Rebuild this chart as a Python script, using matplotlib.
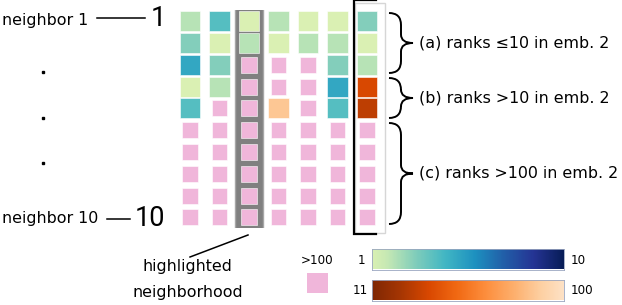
import matplotlib
matplotlib.use("Agg")
import matplotlib.pyplot as plt
import numpy as np
from matplotlib.colors import ListedColormap, Normalize
from matplotlib.patches import Rectangle, PathPatch
from matplotlib.path import Path

# ranks of each neighbor (rows) in the 7 embeddings (columns); 999 means >100
ranks_r0 = [2, 4, 1, 2, 1, 1, 3]
ranks_r1 = [3, 1, 2, 1, 2, 2, 1]
ranks_r2 = [5, 3, 999, 999, 999, 3, 2]
ranks_r3 = [1, 2, 999, 999, 999, 5, 37]
ranks_r4 = [4, 999, 999, 86, 999, 4, 30]
ranks_rest = [999] * 7
ranks = np.array([ranks_r0, ranks_r1, ranks_r2, ranks_r3, ranks_r4] + [ranks_rest] * 5)

highlight_col = 2
bracket_col = 6

group_labels = ["(a) ranks \u226410 in emb. 2", "(b) ranks >10 in emb. 2", "(c) ranks >100 in emb. 2"]

PINK = "#f0b6da"
cmap_in = ListedColormap(plt.cm.YlGnBu(np.linspace(0.19, 1.0, 256)))
cmap_out = ListedColormap(plt.cm.Oranges_r(np.linspace(0.0, 0.85, 256)))
norm_in = Normalize(1, 10)
norm_out = Normalize(11, 100)

FS = 11.4

fig = plt.figure(figsize=(6.22, 3.05), dpi=100)
W, H = 622, 305

# overlay in pixel coordinates for annotations
ov = fig.add_axes([0, 0, 1, 1])
ov.set_xlim(0, W)
ov.set_ylim(H, 0)
ov.axis("off")

# grid axes
nrows, ncols = ranks.shape
left, width = 175.25, 206.5
top, height = 10.3, 217.9
ax = fig.add_axes([left / W, (H - top - height) / H, width / W, height / H])
ax.set_xlim(-0.5, ncols - 0.5)
ax.set_ylim(nrows - 0.5, -0.5)
ax.axis("off")

# highlighted neighborhood (grey column)
ax.add_patch(Rectangle((highlight_col - 0.461, -0.651), 0.922, 10.37,
                       facecolor="#808080", edgecolor="#a6a6a6", lw=1, zorder=1))
# box + bracket for embedding 2
ax.add_patch(Rectangle((bracket_col - 0.407, -0.835), 1.017, 10.555,
                       facecolor="none", edgecolor="#d6d6d6", lw=1, zorder=1, clip_on=False))
ax.plot([bracket_col + 0.305, bracket_col - 0.441, bracket_col - 0.441, bracket_col + 0.305],
        [-0.95, -0.95, 9.766, 9.766], color="black", lw=1.6, zorder=3, clip_on=False,
        solid_joinstyle="miter")

for r in range(nrows):
    for c in range(ncols):
        v = ranks[r, c]
        if v <= 10:
            col = cmap_in(norm_in(v))
            w, h = 0.678, 0.918
        elif v <= 100:
            col = cmap_out(norm_out(v))
            w, h = 0.678, 0.918
        else:
            col = PINK
            w, h = 0.542, 0.734
        ax.add_patch(Rectangle((c - w / 2, r - h / 2), w, h, facecolor=col,
                               edgecolor="white", lw=0.4, zorder=2))

# left labels
ov.text(2, 20, "neighbor 1", fontsize=FS, va="center", ha="left")
ov.plot([97, 145], [18, 18], color="black", lw=1.1)
ov.text(151, 18.5, "1", fontsize=19.5, va="center", ha="left", family="Roboto")
ov.text(2, 218, "neighbor 10", fontsize=FS, va="center", ha="left")
ov.plot([107, 130], [219, 219], color="black", lw=1.1)
ov.text(135, 218.5, "10", fontsize=19.5, va="center", ha="left", family="Roboto")
ov.plot([43, 43, 43], [72, 117.5, 163], "s", color="black", ms=2.0)


def brace(x, y0, y1, w=24):
    ym = (y0 + y1) / 2
    h = w / 2
    verts = [(x, y0), (x + h, y0), (x + h, y0 + h),
             (x + h, ym - h * 0.7),
             (x + h, ym), (x + w, ym),
             (x + h, ym), (x + h, ym + h * 0.7),
             (x + h, y1 - h),
             (x + h, y1), (x, y1)]
    codes = [Path.MOVETO, Path.CURVE3, Path.CURVE3,
             Path.LINETO,
             Path.CURVE3, Path.CURVE3,
             Path.CURVE3, Path.CURVE3,
             Path.LINETO,
             Path.CURVE3, Path.CURVE3]
    ov.add_patch(PathPatch(Path(verts, codes), facecolor="none", edgecolor="black", lw=1.4))


brace_spans = [(13, 73), (78, 118), (123, 224)]
for (y0, y1), lab in zip(brace_spans, group_labels):
    brace(389, y0, y1)
    ov.text(419, (y0 + y1) / 2, lab, fontsize=FS, va="center", ha="left")

# highlighted neighborhood caption
ov.plot([248, 190], [235, 257], color="black", lw=1.1)
ov.text(187, 266, "highlighted", fontsize=FS, va="center", ha="center")
ov.text(188, 292.5, "neighborhood", fontsize=FS, va="center", ha="center")

# legend: >100 swatch
ov.text(317, 261, ">100", fontsize=8.6, va="center", ha="center")
ov.add_patch(Rectangle((307, 273), 21, 20, facecolor=PINK, edgecolor="none"))

# colorbars
grad = np.linspace(0, 1, 256)[None, :]
for y0, cm, l1, l2, xl in [(249, cmap_in, "1", "10", 365), (280, cmap_out, "11", "100", 368)]:
    cax = fig.add_axes([372 / W, (H - y0 - 20.5) / H, 192 / W, 20.5 / H])
    cax.imshow(grad, aspect="auto", cmap=cm)
    cax.set_xticks([])
    cax.set_yticks([])
    for s in cax.spines.values():
        s.set_color("#9aa6c0")
        s.set_linewidth(0.6)
    ov.text(xl, y0 + 11, l1, fontsize=8.6, va="center", ha="right")
    ov.text(571, y0 + 11, l2, fontsize=8.6, va="center", ha="left")

fig.savefig("out.png", dpi=100)
